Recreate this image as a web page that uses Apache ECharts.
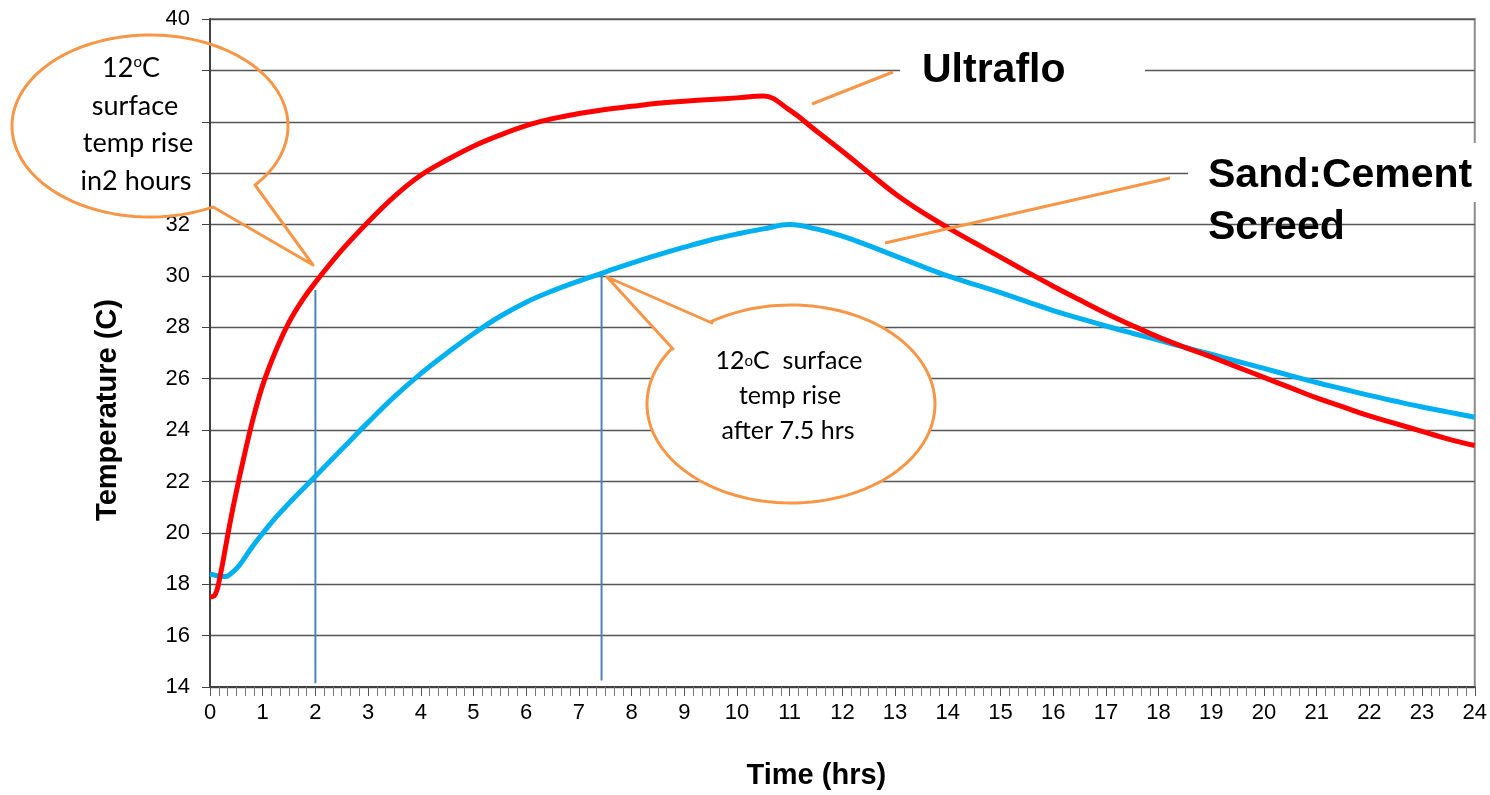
<!DOCTYPE html>
<html>
<head>
<meta charset="utf-8">
<script src="https://cdn.jsdelivr.net/npm/echarts@6/dist/echarts.min.js"></script>
<style>
html,body{margin:0;padding:0;background:#fff;overflow:hidden;}
#chart{width:1490px;height:795px;}
</style>
</head>
<body>
<div id="chart"></div>
<script>
// ---- data ----
const hours = [0,0.1,0.2,0.3,0.4,0.5,0.6,0.8,1.0,1.25,1.5,1.75,2,2.5,3,3.5,4,4.5,5,5.5,6,6.5,7,7.5,8,8.5,9,9.5,10,10.5,11,11.5,12,12.5,13,13.5,14,14.5,15,15.5,16,16.5,17,17.5,18,18.5,19,19.5,20,20.5,21,21.5,22,22.5,23,23.5,24];
const ultraflo = [17.5,17.6,18.4,19.5,20.6,21.6,22.55,24.3,25.75,27.1,28.2,29.05,29.75,31.0,32.1,33.1,33.92,34.52,35.05,35.48,35.85,36.12,36.32,36.48,36.6,36.72,36.8,36.87,36.93,37.0,36.45,35.65,34.85,34.02,33.2,32.5,31.88,31.3,30.73,30.16,29.6,29.07,28.55,28.07,27.62,27.22,26.85,26.45,26.05,25.65,25.25,24.9,24.55,24.25,23.95,23.65,23.4];
const screed = [18.4,18.35,18.3,18.3,18.42,18.6,18.85,19.45,19.98,20.6,21.15,21.68,22.2,23.25,24.3,25.3,26.2,27.0,27.75,28.42,28.98,29.42,29.8,30.15,30.5,30.82,31.12,31.4,31.63,31.83,32.0,31.83,31.55,31.18,30.78,30.38,30.0,29.67,29.35,29.0,28.65,28.35,28.05,27.77,27.5,27.22,26.95,26.67,26.4,26.12,25.85,25.6,25.35,25.12,24.9,24.7,24.5];
const marker2h = [[2, 29.45], [2, 14.15]];
const marker7h = [[7.43, 30.05], [7.43, 14.25]];
const hiddenYLabels = [34, 36, 38];
const seriesNames = ['Ultraflo', 'Sand:Cement Screed'];
const xTitle = 'Time (hrs)';
const yTitle = 'Temperature (C)';

const chart = echarts.init(document.getElementById('chart'), null, {renderer: 'canvas', width: 1490, height: 795});
const FONT = '"Liberation Sans", Arial, sans-serif';
const CFONT = 'Lato, "Open Sans", sans-serif';
const ORANGE = '#F79646';

// speech-bubble outline: ellipse arc from a1 to a2 (degrees) plus tail
function bubble(cx, cy, rx, ry, b, tip, a, a1, a2) {
  const pts = [b, tip, a];
  const n = 120;
  for (let i = 0; i <= n; i++) {
    const t = (a1 + (a2 - a1) * i / n) * Math.PI / 180;
    pts.push([cx + rx * Math.cos(t), cy + ry * Math.sin(t)]);
  }
  return pts;
}
const bubble1 = bubble(150, 126, 138, 91, [255, 185], [313, 265], [213, 207], 62.8, 400.4);
const bubble2 = bubble(791, 404, 144, 99, [712, 323], [607, 277], [673, 349], 214.2, -123.9);

const option = {
  animation: false,
  backgroundColor: '#fff',
  grid: {left: 210, right: 10, top: 19, bottom: 108, show: true, borderColor: '#8c8c8c', borderWidth: 2},
  xAxis: {
    type: 'value', min: 0, max: 24, interval: 1,
    name: xTitle, nameLocation: 'middle', nameGap: 74,
    nameTextStyle: {fontFamily: FONT, fontSize: 29, fontWeight: 'bold', color: '#000', padding: [0, 52, 0, 0]},
    axisLine: {show: true, lineStyle: {color: '#404040', width: 2}},
    axisTick: {show: true, length: 9, lineStyle: {color: '#555', width: 1}},
    minorTick: {show: true, splitNumber: 6, length: 9, lineStyle: {color: '#777', width: 1}},
    axisLabel: {fontFamily: FONT, fontSize: 22, color: '#000', margin: 15},
    splitLine: {show: false}
  },
  yAxis: {
    type: 'value', min: 14, max: 40, interval: 2,
    name: yTitle, nameLocation: 'middle', nameGap: 88, nameRotate: 90,
    nameTextStyle: {fontFamily: FONT, fontSize: 29, fontWeight: 'bold', color: '#000', padding: [0, 114, 0, 0]},
    axisLine: {show: true, lineStyle: {color: '#404040', width: 2}},
    axisTick: {show: true, length: 8, lineStyle: {color: '#404040', width: 1}},
    axisLabel: {fontFamily: FONT, fontSize: 22, color: '#000', margin: 20,
      formatter: v => hiddenYLabels.indexOf(v) >= 0 ? '' : String(v)},
    splitLine: {show: true, lineStyle: {color: '#555', width: 1.4}}
  },
  series: [
    {type: 'line', data: marker2h, symbol: 'none', silent: true, z: 1,
      lineStyle: {color: '#4F81BD', width: 2}},
    {type: 'line', data: marker7h, symbol: 'none', silent: true, z: 1,
      lineStyle: {color: '#4F81BD', width: 2}},
    {name: seriesNames[1], type: 'line', data: hours.map((h, i) => [h, screed[i]]),
      symbol: 'none', smooth: 0.4, z: 3,
      lineStyle: {color: '#00B0F0', width: 5, join: 'round'}},
    {name: seriesNames[0], type: 'line', data: hours.map((h, i) => [h, ultraflo[i]]),
      symbol: 'none', smooth: 0.4, z: 4,
      lineStyle: {color: '#FF0000', width: 5, join: 'round'}}
  ],
  graphic: [
    // callout 1 (transparent)
    {type: 'polygon', z: 100, shape: {points: bubble1},
      style: {fill: 'none', stroke: ORANGE, lineWidth: 3, lineJoin: 'round'}},
    {type: 'text', z: 101, x: 131, y: 68,
      style: {text: '{a|12}{s|o}{a|C}', align: 'center', verticalAlign: 'middle',
        rich: {a: {fontFamily: CFONT, fontSize: 27, color: '#000'}, s: {fontFamily: CFONT, fontSize: 15, color: '#000', verticalAlign: 'top'}}}},
    {type: 'text', z: 101, x: 135, y: 106, style: {text: 'surface', align: 'center', verticalAlign: 'middle', fontFamily: CFONT, fontSize: 27, fill: '#000'}},
    {type: 'text', z: 101, x: 138, y: 143, style: {text: 'temp rise', align: 'center', verticalAlign: 'middle', fontFamily: CFONT, fontSize: 27, fill: '#000'}},
    {type: 'text', z: 101, x: 136, y: 181, style: {text: 'in2 hours', align: 'center', verticalAlign: 'middle', fontFamily: CFONT, fontSize: 27, fill: '#000'}},
    // callout 2 (white filled)
    {type: 'polygon', z: 100, shape: {points: bubble2},
      style: {fill: '#fff', stroke: ORANGE, lineWidth: 3, lineJoin: 'round'}},
    {type: 'text', z: 101, x: 789, y: 361,
      style: {text: '{a|12}{s|o}{a|C  surface}', align: 'center', verticalAlign: 'middle',
        rich: {a: {fontFamily: CFONT, fontSize: 25, color: '#000'}, s: {fontFamily: CFONT, fontSize: 15, color: '#000'}}}},
    {type: 'text', z: 101, x: 790, y: 396, style: {text: 'temp rise', align: 'center', verticalAlign: 'middle', fontFamily: CFONT, fontSize: 25, fill: '#000'}},
    {type: 'text', z: 101, x: 788, y: 431, style: {text: 'after 7.5 hrs', align: 'center', verticalAlign: 'middle', fontFamily: CFONT, fontSize: 25, fill: '#000'}},
    // series labels
    {type: 'rect', z: 100, shape: {x: 900, y: 40, width: 245, height: 58}, style: {fill: '#fff'}},
    {type: 'text', z: 101, x: 922, y: 71, style: {text: seriesNames[0], align: 'left', verticalAlign: 'middle', fontFamily: FONT, fontSize: 41, fontWeight: 'bold', fill: '#000'}},
    {type: 'line', z: 100, shape: {x1: 812, y1: 104, x2: 893, y2: 72}, style: {stroke: ORANGE, lineWidth: 3}},
    {type: 'rect', z: 100, shape: {x: 1188, y: 143, width: 302, height: 59}, style: {fill: '#fff'}},
    {type: 'text', z: 101, x: 1208, y: 176, style: {text: 'Sand:Cement', align: 'left', verticalAlign: 'middle', fontFamily: FONT, fontSize: 41, fontWeight: 'bold', fill: '#000'}},
    {type: 'text', z: 101, x: 1208, y: 228, style: {text: 'Screed', align: 'left', verticalAlign: 'middle', fontFamily: FONT, fontSize: 41, fontWeight: 'bold', fill: '#000'}},
    {type: 'line', z: 100, shape: {x1: 885, y1: 243, x2: 1170, y2: 178}, style: {stroke: ORANGE, lineWidth: 3}}
  ]
};
chart.setOption(option);
</script>
</body>
</html>
